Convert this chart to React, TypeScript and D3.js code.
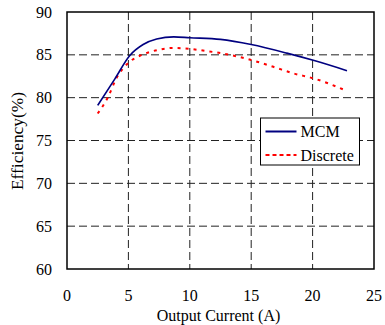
import { useEffect, useRef } from 'react';
import * as d3 from 'd3';

const xTicks = [0, 5, 10, 15, 20, 25];
const yTicks = [60, 65, 70, 75, 80, 85, 90];

// MCM efficiency vs output current
const mcmCurrent = [2.5, 3.9, 5.1, 6.2, 7.3, 8.7, 10, 12.5, 15, 17.9, 20.2, 22.8];
const mcmEff = [79.1, 82.2, 84.9, 86.2, 86.85, 87.1, 87.0, 86.8, 86.2, 85.2, 84.3, 83.15];

// Discrete efficiency vs output current
const discCurrent = [2.5, 3.35, 4.0, 5.1, 5.8, 7.5, 8.6, 10, 11.3, 12.5, 15, 16.8, 18.4, 20.2, 22.6];
const discEff = [78.15, 80.1, 82.2, 84.2, 84.8, 85.6, 85.8, 85.7, 85.45, 85.2, 84.4, 83.6, 82.85, 82.2, 80.9];

const App = () => {
  const svgRef = useRef<SVGSVGElement>(null);

  useEffect(() => {
    const margin = { top: 12, right: 11, bottom: 56, left: 67 };
    const width = 385 - margin.left - margin.right;
    const height = 325 - margin.top - margin.bottom;

    const svg = d3.select(svgRef.current);
    svg.selectAll('*').remove();
    const g = svg.append('g').attr('transform', `translate(${margin.left},${margin.top})`);

    const x = d3.scaleLinear().domain([0, 25]).range([0, width]);
    const y = d3.scaleLinear().domain([60, 90]).range([height, 0]);

    // grid
    g.append('g')
      .selectAll('line')
      .data(xTicks.slice(1, -1))
      .enter()
      .append('line')
      .attr('x1', d => x(d)).attr('x2', d => x(d))
      .attr('y1', 0).attr('y2', height)
      .attr('stroke', '#222')
      .attr('stroke-dasharray', '8,4');
    g.append('g')
      .selectAll('line')
      .data(yTicks.slice(1, -1))
      .enter()
      .append('line')
      .attr('y1', d => y(d)).attr('y2', d => y(d))
      .attr('x1', 0).attr('x2', width)
      .attr('stroke', '#222')
      .attr('stroke-dasharray', '8,4');

    g.append('rect')
      .attr('width', width).attr('height', height)
      .attr('fill', 'none').attr('stroke', '#000').attr('stroke-width', 1.5);

    const font = '"Liberation Serif", "Times New Roman", serif';

    g.append('g')
      .selectAll('text')
      .data(xTicks)
      .enter()
      .append('text')
      .attr('x', d => x(d))
      .attr('y', height + 32)
      .attr('text-anchor', 'middle')
      .style('font-family', font)
      .style('font-size', '16px')
      .text(d => d);

    g.append('g')
      .selectAll('text')
      .data(yTicks)
      .enter()
      .append('text')
      .attr('x', -15)
      .attr('y', d => y(d))
      .attr('dy', '0.35em')
      .attr('text-anchor', 'end')
      .style('font-family', font)
      .style('font-size', '16px')
      .text(d => d);

    g.append('text')
      .attr('x', width / 2 - 2)
      .attr('y', height + 52)
      .attr('text-anchor', 'middle')
      .style('font-family', font)
      .style('font-size', '16px')
      .text('Output Current (A)');

    g.append('text')
      .attr('transform', `translate(-44,${141 - margin.top}) rotate(-90)`)
      .attr('text-anchor', 'middle')
      .attr('textLength', 98)
      .attr('lengthAdjust', 'spacingAndGlyphs')
      .style('font-family', font)
      .style('font-size', '17px')
      .text('Efficiency(%)');

    const line = d3.line<[number, number]>()
      .x(d => x(d[0]))
      .y(d => y(d[1]))
      .curve(d3.curveMonotoneX);

    g.append('path')
      .datum(d3.zip(discCurrent, discEff) as [number, number][])
      .attr('d', line)
      .attr('fill', 'none')
      .attr('stroke', '#ff0000')
      .attr('stroke-width', 2)
      .attr('stroke-dasharray', '3,5');

    g.append('path')
      .datum(d3.zip(mcmCurrent, mcmEff) as [number, number][])
      .attr('d', line)
      .attr('fill', 'none')
      .attr('stroke', '#000080')
      .attr('stroke-width', 1.6);

    // legend
    const lg = g.append('g').attr('transform', `translate(${260.5 - margin.left},${118 - margin.top})`);
    lg.append('rect')
      .attr('width', 99).attr('height', 47)
      .attr('fill', '#fff').attr('stroke', '#000').attr('stroke-width', 1);
    const items = [
      { label: 'MCM', color: '#000080', dash: null, yy: 13.5 },
      { label: 'Discrete', color: '#ff0000', dash: '4,3', yy: 37 },
    ];
    items.forEach(it => {
      lg.append('line')
        .attr('x1', 5).attr('x2', 36)
        .attr('y1', it.yy).attr('y2', it.yy)
        .attr('stroke', it.color)
        .attr('stroke-width', 2)
        .attr('stroke-dasharray', it.dash);
      lg.append('text')
        .attr('x', 40).attr('y', it.yy)
        .attr('dy', '0.35em')
        .style('font-family', font)
        .style('font-size', '16px')
        .text(it.label);
    });
  }, []);

  return (
    <svg
      ref={svgRef}
      width={385}
      height={325}
      style={{ position: 'absolute', left: 0, top: 0, background: '#fff' }}
    />
  );
};

export default App;
